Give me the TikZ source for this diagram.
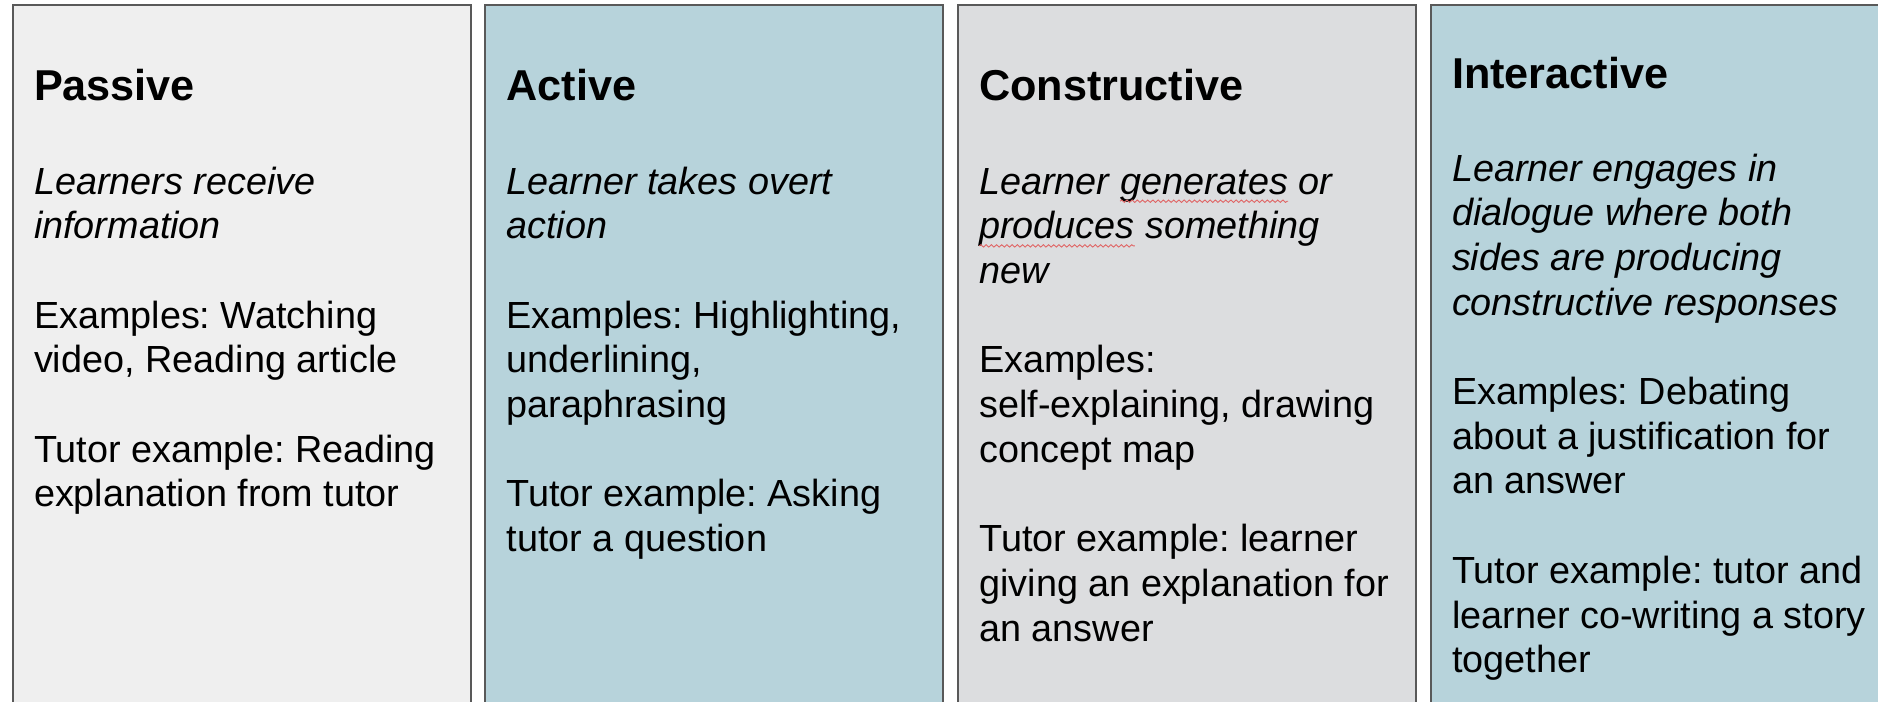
\documentclass[tikz,border=0pt]{standalone}
\usepackage{fontspec}
\setmainfont{Liberation Sans}
\frenchspacing
\usetikzlibrary{decorations.pathmorphing}
\definecolor{pgray}{HTML}{EFEFEF}
\definecolor{pblue}{HTML}{B7D3DB}
\definecolor{cgray}{HTML}{DCDDDF}
\definecolor{bord}{HTML}{595959}
\definecolor{squigred}{HTML}{E06666}
\newcommand{\bodyfnt}{\fontsize{18.9pt}{22.35pt}\selectfont\frenchspacing}
\newcommand{\titlefnt}{\fontsize{21.6pt}{25pt}\selectfont\bfseries\frenchspacing}
\tikzset{
  colbox/.style={draw=bord, line width=1pt},
  txt/.style={anchor=base west, inner sep=0pt, outer sep=0pt, font=\bodyfnt, text=black},
  itxt/.style={txt, font=\bodyfnt\itshape},
  ttl/.style={anchor=base west, inner sep=0pt, outer sep=0pt, font=\titlefnt, text=black},
  squig/.style={draw=squigred, line width=0.45pt, decorate, decoration={snake, segment length=2.6pt, amplitude=0.6pt}}
}
\begin{document}
\begin{tikzpicture}[x=0.5pt,y=-0.5pt]
\useasboundingbox (0,0) rectangle (1878,701);
\clip (0,0) rectangle (1878,701);
% boxes
\path[colbox, fill=pgray] (13,5.5) rectangle (470.7,720);
\path[colbox, fill=pblue] (485.3,5.5) rectangle (942.8,720);
\path[colbox, fill=cgray] (958.2,5.5) rectangle (1416,720);
\path[colbox, fill=pblue] (1430.7,5.5) rectangle (1895,720);

% ---- Passive ----
\node[ttl] (pt) at (34,101) {Passive};
\node[itxt] (p0) at (34,194) {Learners receive};
\node[itxt] (p1) at (34,238.7) {information};
\node[txt] (p3) at (34,328.1) {Examples: Watching};
\node[txt] (p4) at (34,372.8) {video, Reading article};
\node[txt] (p6) at (34,462.2) {Tutor example: Reading};
\node[txt] (p7) at (34,506.9) {explanation from tutor};

% ---- Active ----
\node[ttl] (at) at (506.5,100.5) {Active};
\node[itxt] (a0) at (506.5,194) {Learner takes overt};
\node[itxt] (a1) at (506.5,238.7) {action};
\node[txt] (a3) at (506.5,328.1) {Examples: Highlighting,};
\node[txt] (a4) at (506.5,372.8) {underlining,};
\node[txt] (a5) at (506.5,417.5) {paraphrasing};
\node[txt] (a7) at (506.5,506.9) {Tutor example: Asking};
\node[txt] (a8) at (506.5,551.6) {tutor a question};

% ---- Constructive ----
\node[ttl] (ct) at (979.3,100.5) {Constructive};
\node[itxt] (c0a) at (979.3,194) {Learner};
\node[itxt] (c0b) at ([xshift=5.25pt]c0a.base east) {generates};
\node[itxt] (c0c) at ([xshift=5.25pt]c0b.base east) {or};
\node[itxt] (c1a) at (979.3,238.7) {produces};
\node[itxt] (c1b) at ([xshift=5.25pt]c1a.base east) {something};
\node[itxt] (c2) at (979.3,283.4) {new};
\node[txt] (c4) at (979.3,372.8) {Examples:};
\node[txt] (c5) at (979.3,417.5) {self-explaining, drawing};
\node[txt] (c6) at (979.3,462.2) {concept map};
\node[txt] (c8) at (979.3,551.6) {Tutor example: learner};
\node[txt] (c9) at (979.3,596.3) {giving an explanation for};
\node[txt] (c10) at (979.3,641) {an answer};
\draw[squig] ([yshift=-3.6pt]c0b.base west) -- ([yshift=-3.6pt]c0b.base east);
\draw[squig] ([yshift=-3.6pt]c1a.base west) -- ([yshift=-3.6pt]c1a.base east);

% ---- Interactive ----
\node[ttl] (it) at (1452,88.3) {Interactive};
\node[itxt] (i0) at (1452,181) {Learner engages in};
\node[itxt] (i1) at (1452,225.7) {dialogue where both};
\node[itxt] (i2) at (1452,270.4) {sides are producing};
\node[itxt] (i3) at (1452,315.1) {constructive responses};
\node[txt] (i5) at (1452,404.5) {Examples: Debating};
\node[txt] (i6) at (1452,449.2) {about a justification for};
\node[txt] (i7) at (1452,493.9) {an answer};
\node[txt] (i9) at (1452,583.3) {Tutor example: tutor and};
\node[txt] (i10) at (1452,628) {learner co-writing a story};
\node[txt] (i11) at (1452,672.7) {together};
\end{tikzpicture}
\end{document}
